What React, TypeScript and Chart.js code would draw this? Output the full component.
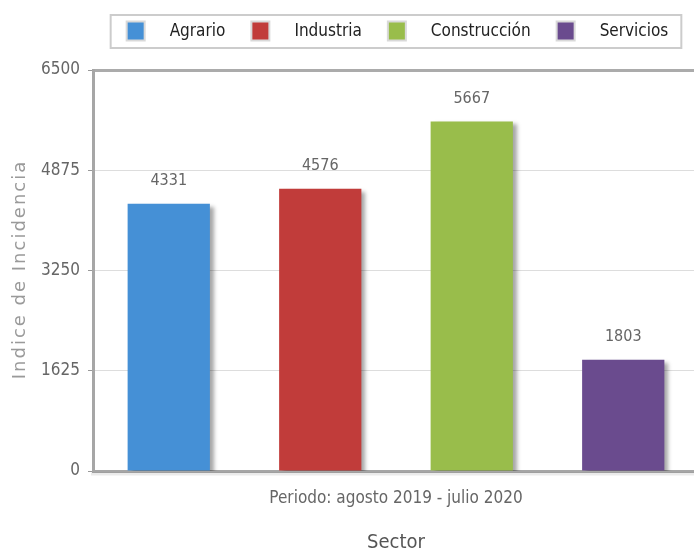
import React, { useEffect, useRef } from "react";
import { Chart, registerables } from "chart.js";

Chart.register(...registerables);

const categories = ["Periodo: agosto 2019 - julio 2020"];
const seriesNames = ["Agrario", "Industria", "Construcción", "Servicios"];
const seriesValues = [4331, 4576, 5667, 1803];
const seriesColors = ["#4590d6", "#c13c3a", "#99bd4b", "#6a4b8e"];
const yTicks = [0, 1625, 3250, 4875, 6500];
const yTitle = "Indice de Incidencia";
const xTitle = "Sector";

const NARROW = "'Liberation Sans Narrow', 'DejaVu Sans Condensed', sans-serif";

const shadowPlugin = {
  id: "barShadow",
  beforeDatasetsDraw(chart: any) {
    const ctx = chart.ctx;
    ctx.save();
    ctx.shadowColor = "rgba(0,0,0,0.35)";
    ctx.shadowBlur = 4;
    ctx.shadowOffsetX = 4;
    ctx.shadowOffsetY = 3;
  },
  afterDatasetsDraw(chart: any) {
    const ctx = chart.ctx;
    ctx.restore();
    // value labels
    ctx.save();
    ctx.font = `16px ${NARROW}`;
    ctx.fillStyle = "#666";
    ctx.textAlign = "center";
    ctx.textBaseline = "middle";
    chart.data.datasets.forEach((ds: any, i: number) => {
      const meta = chart.getDatasetMeta(i);
      meta.data.forEach((bar: any, j: number) => {
        ctx.fillText(String(ds.data[j]), bar.x, bar.y - 23);
      });
    });
    // x axis shadow
    const area = chart.chartArea;
    ctx.strokeStyle = "rgba(0,0,0,0.08)";
    ctx.lineWidth = 3;
    ctx.beginPath();
    ctx.moveTo(area.left - 2, area.bottom + 3);
    ctx.lineTo(area.right, area.bottom + 3);
    ctx.stroke();
    ctx.restore();
  },
};

const yTitlePlugin = {
  id: "yTitleSpaced",
  afterDraw(chart: any) {
    const ctx = chart.ctx;
    const area = chart.chartArea;
    ctx.save();
    ctx.font = "18px 'DejaVu Sans', Verdana, sans-serif";
    try {
      (ctx as any).letterSpacing = "2px";
    } catch (e) {}
    ctx.fillStyle = "#9a9a9a";
    ctx.textAlign = "center";
    ctx.textBaseline = "middle";
    ctx.translate(20, (area.top + area.bottom) / 2);
    ctx.rotate(-Math.PI / 2);
    ctx.fillText(yTitle, 1, 0);
    ctx.restore();
  },
};

const legendPlugin = {
  id: "boxLegend",
  afterDraw(chart: any) {
    const ctx = chart.ctx;
    ctx.save();
    ctx.font = `17px ${NARROW}`;
    const sw = 16;
    const gapText = 26;
    const gapItem = 27;
    const widths = chart.data.datasets.map((ds: any) => ctx.measureText(ds.label).width);
    let total = 0;
    widths.forEach((w: number, i: number) => {
      total += sw + gapText + w + (i < widths.length - 1 ? gapItem : 0);
    });
    const cx = 398;
    let x = cx - total / 2;
    const cy = 31;
    ctx.strokeStyle = "#cccccc";
    ctx.lineWidth = 2;
    ctx.strokeRect(x - 17, 15, total + 30, 33);
    ctx.textBaseline = "middle";
    ctx.textAlign = "left";
    chart.data.datasets.forEach((ds: any, i: number) => {
      ctx.fillStyle = "#d9d9d9";
      ctx.fillRect(x - 2, cy - 10.5, sw + 4, 21);
      ctx.fillStyle = ds.backgroundColor;
      ctx.fillRect(x, cy - 8.5, sw, 17);
      ctx.fillStyle = "#222";
      ctx.fillText(ds.label, x + sw + gapText, cy + 1);
      x += sw + gapText + widths[i] + gapItem;
    });
    ctx.restore();
  },
};

export default function App() {
  const ref = useRef<HTMLCanvasElement | null>(null);
  useEffect(() => {
    if (!ref.current) return;
    const chart = new Chart(ref.current, {
      type: "bar",
      data: {
        labels: categories,
        datasets: seriesNames.map((name, i) => ({
          label: name,
          data: [seriesValues[i]],
          backgroundColor: seriesColors[i],
          borderWidth: 0,
          categoryPercentage: 1.0,
          barPercentage: 0.543,
        })),
      },
      options: {
        animation: false,
        responsive: false,
        maintainAspectRatio: false,
        layout: { padding: { top: 70, left: 0, right: 1, bottom: 0 } },
        plugins: {
          legend: { display: false },
          tooltip: { enabled: false },
          title: { display: false },
        },
        scales: {
          x: {
            grid: { display: false, drawTicks: false },
            border: { display: true, color: "#a6a6a6", width: 3 },
            ticks: {
              color: "#666",
              font: { family: NARROW, size: 17 },
              padding: 17,
            },
            title: {
              display: true,
              text: xTitle,
              color: "#555",
              font: { family: NARROW, size: 20, lineHeight: 1 },
              padding: { top: 0, bottom: -3 },
            },
            afterFit(scale: any) {
              scale.height = 79;
            },
          },
          y: {
            min: 0,
            max: 6500,
            afterBuildTicks(scale: any) {
              scale.ticks = yTicks.map((v) => ({ value: v }));
            },
            grid: {
              color: (c: any) => (c.tick && c.tick.value === 6500 ? "#ababab" : "#dddddd"),
              lineWidth: (c: any) => (c.tick && c.tick.value === 6500 ? 3 : 1),
              tickLength: 5,
              tickColor: "#999",
              tickWidth: 1,
            },
            border: { display: true, color: "#a6a6a6", width: 3 },
            ticks: {
              color: "#666",
              font: { family: NARROW, size: 17 },
              padding: 8,
              callback: (v: any) => String(v),
            },
            title: { display: false },
            afterFit(scale: any) {
              scale.width = 93;
            },
          },
        },
      },
      plugins: [shadowPlugin, legendPlugin, yTitlePlugin],
    });
    return () => chart.destroy();
  }, []);
  return (
    <div style={{ position: "absolute", left: 0, top: 0, width: 694, height: 550, overflow: "hidden" }}>
      <canvas ref={ref} width={700} height={550} style={{ width: 700, height: 550, display: "block" }} />
    </div>
  );
}
